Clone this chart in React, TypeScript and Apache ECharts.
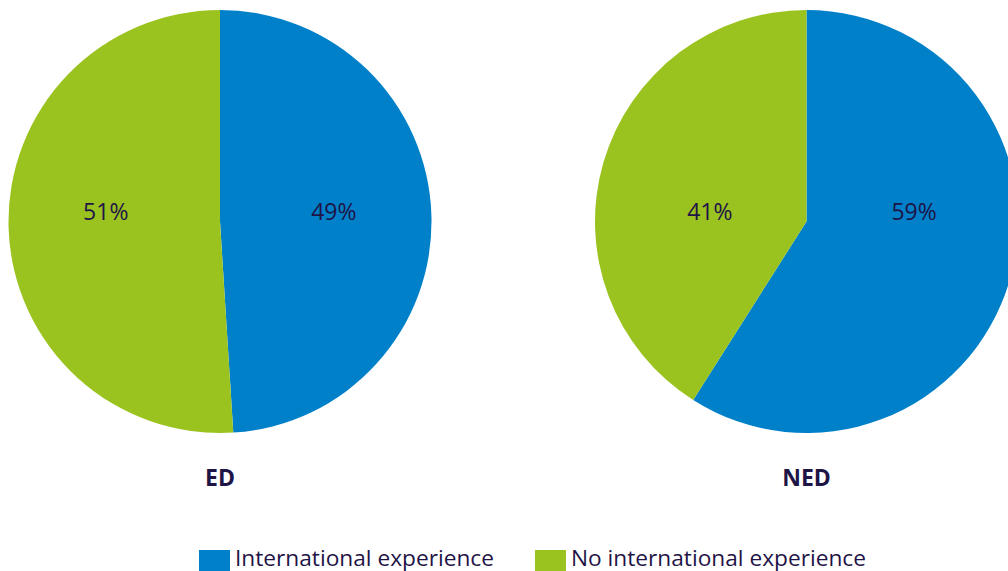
import React, { useEffect, useRef } from "react";
import * as echarts from "echarts";

const categories = ["International experience", "No international experience"];
const groups = ["ED", "NED"];
const edValues = [49, 51];
const nedValues = [59, 41];

const COLORS = ["#0080c9", "#9bc31f"];
const TEXT = "#1f1446";
const FONT = "'Open Sans', 'Noto Sans', sans-serif";

export default function App() {
  const ref = useRef<HTMLDivElement>(null);

  useEffect(() => {
    if (!ref.current) return;
    const chart = echarts.init(ref.current, undefined, { renderer: "svg" });
    const cy = 221.5;
    const R = 211.5;
    const makePie = (cx: number, values: number[], ks: number[]) => ({
      type: "pie",
      center: [cx, cy],
      radius: [0, R],
      startAngle: 90,
      clockwise: true,
      silent: true,
      label: {
        show: true,
        position: "inside",
        formatter: "{c}%",
        color: TEXT,
        fontSize: 23,
        fontFamily: FONT,
      },
      labelLine: { show: false },
      labelLayout: (p: any) => {
        const lx = p.labelRect.x + p.labelRect.width / 2;
        const k = ks[p.dataIndex] ?? 1;
        return { x: cx + (lx - cx) * k, y: cy - 10.5 };
      },
      itemStyle: { borderWidth: 0 },
      data: values.map((v, i) => ({
        name: categories[i],
        value: v,
        itemStyle: { color: COLORS[i] },
      })),
    });

    const titleStyle = { color: TEXT, fontSize: 23, fontWeight: "bold", fontFamily: FONT };

    chart.setOption({
      animation: false,
      color: COLORS,
      title: [
        { text: groups[0], left: 220, top: 465, padding: 0, textAlign: "center", textStyle: titleStyle },
        { text: groups[1], left: 806.5, top: 465, padding: 0, textAlign: "center", textStyle: titleStyle },
      ],
      legend: {
        left: 199,
        top: 546,
        padding: 0,
        itemWidth: 31,
        itemHeight: 31,
        itemGap: 41,
        icon: "rect",
        selectedMode: false,
        data: categories,
        formatter: (name: string) => name + "\n ",
        textStyle: {
          color: TEXT,
          fontSize: 22.7,
          lineHeight: 16,
          fontFamily: FONT,
        },
      },
      series: [
        makePie(220, edValues, [1.047, 1.051]),
        makePie(806.5, nedValues, [1.03, 0.926]),
      ],
    });
    return () => chart.dispose();
  }, []);

  return (
    <div
      ref={ref}
      style={{ position: "fixed", left: 0, top: 0, width: 1008, height: 571, background: "#fff" }}
    />
  );
}
